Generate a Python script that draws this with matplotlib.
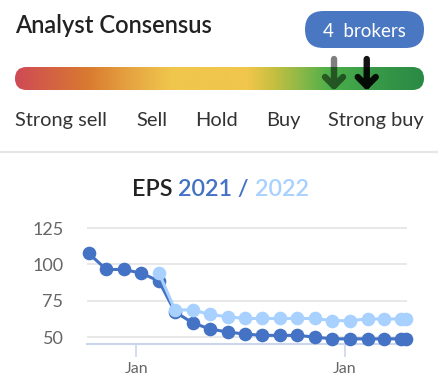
import matplotlib
matplotlib.use("Agg")
import matplotlib.pyplot as plt
import matplotlib.dates as mdates
import numpy as np
from matplotlib.colors import LinearSegmentedColormap
from matplotlib.patches import FancyBboxPatch, PathPatch
from matplotlib.path import Path
from datetime import date

plt.rcParams['font.family'] = ['Lato', 'DejaVu Sans']

# 数据
dates = ["2020-10-10", "2020-11-10", "2020-12-10", "2021-01-10", "2021-02-10",
         "2021-03-10", "2021-04-10", "2021-05-10", "2021-06-10", "2021-07-10",
         "2021-08-10", "2021-09-10", "2021-10-10", "2021-11-10", "2021-12-10",
         "2022-01-10", "2022-02-10", "2022-03-10", "2022-04-10", "2022-04-18"]
eps_2021 = [107.5, 96.5, 96.5, 94.0, 88.5, 67.3, 59.8, 55.6, 53.5, 52.1,
            51.2, 51.2, 51.2, 50.0, 48.8, 48.8, 48.8, 48.8, 48.8, 48.8]
eps_2022 = [None, None, None, None, 94.0, 68.7, 68.7, 65.6, 64.0, 62.8,
            62.8, 62.8, 62.8, 62.8, 61.3, 61.3, 62.5, 62.5, 62.5, 62.5]
y_ticks = [50, 75, 100, 125]
x_ticks = ["2021-01-01", "2022-01-01"]
x_tick_labels = ["Jan", "Jan"]
rating_labels = ["Strong sell", "Sell", "Hold", "Buy", "Strong buy"]
n_brokers = 4
arrow_pos = [0.78, 0.86]   # 箭头在渐变条上的位置(0-1)

W, H = 439, 389
fig = plt.figure(figsize=(W / 100, H / 100), dpi=100, facecolor='white')

# 上半部分：像素坐标的覆盖轴
ax0 = fig.add_axes([0, 0, 1, 1])
ax0.set_xlim(0, W)
ax0.set_ylim(H, 0)
ax0.axis('off')

ax0.text(15, 33, "Analyst Consensus", fontsize=17, fontweight='semibold',
         color='#222222', ha='left', va='baseline')

# 经纪人数量的胶囊
pill = FancyBboxPatch((305, 11), 119, 37,
                      boxstyle="round,pad=0,rounding_size=18.5",
                      fc='#4a77c1', ec='none')
ax0.add_patch(pill)
ax0.text(364.5, 36.5, f"{n_brokers}  brokers", fontsize=13.5, color='white',
         ha='center', va='baseline')

# 渐变条
bar_x0, bar_x1, bar_y0, bar_y1 = 15, 424, 67, 90
cmap = LinearSegmentedColormap.from_list("cons", [
    (0.0, '#cf4a55'), (0.18, '#d97b30'), (0.27, '#e5a040'), (0.38, '#f0c64c'),
    (0.57, '#f0c64c'), (0.63, '#c8c040'), (0.70, '#8cb848'), (0.77, '#4caf48'),
    (0.88, '#389a48'), (1.0, '#2a8a45')])
grad = np.linspace(0, 1, 512).reshape(1, -1)
im = ax0.imshow(grad, cmap=cmap, aspect='auto',
                extent=(bar_x0, bar_x1, bar_y1, bar_y0), zorder=1)
r = (bar_y1 - bar_y0) / 2
clip = FancyBboxPatch((bar_x0, bar_y0), bar_x1 - bar_x0, bar_y1 - bar_y0,
                      boxstyle=f"round,pad=0,rounding_size={r}",
                      fc='none', ec='none', transform=ax0.transData)
ax0.add_patch(clip)
im.set_clip_path(clip)

# 箭头
for pos, alpha in zip(arrow_pos, [0.5, 0.92]):
    x = bar_x0 + pos * (bar_x1 - bar_x0)
    verts = [(x, 59), (x, 86), (x - 9, 77), (x, 86), (x + 9, 77)]
    codes = [Path.MOVETO, Path.LINETO, Path.MOVETO, Path.LINETO, Path.LINETO]
    ax0.add_patch(PathPatch(Path(verts, codes), fill=False, ec='black', alpha=alpha,
                            lw=4.6, capstyle='round', joinstyle='round', zorder=3))

label_x = [15, 152, 216.5, 283, 424]
label_ha = ['left', 'center', 'center', 'center', 'right']
for lab, x, ha in zip(rating_labels, label_x, label_ha):
    ax0.text(x, 126, lab, fontsize=14.4, color='#333333', ha=ha, va='baseline')

ax0.plot([0, W], [152, 152], color='#e6e6e6', lw=1.5)

# EPS 标题
pieces = [("EPS ", '#222222'), ("2021 / ", '#4472c4'), ("2022", '#a8d1ff')]
fig.canvas.draw()
renderer = fig.canvas.get_renderer()
texts = []
for s, c in pieces:
    texts.append(ax0.text(0, 196, s, fontsize=16.8, fontweight='semibold', color=c,
                          ha='left', va='baseline'))
widths = [t.get_window_extent(renderer).width for t in texts]
x = 132
for t, w in zip(texts, widths):
    t.set_x(x)
    x += w

# 下半部分：EPS 图
px_l, px_r, px_b, px_t = 87, 407, 343.5, 226.6
ax = fig.add_axes([px_l / W, (H - px_b) / H, (px_r - px_l) / W, (px_b - px_t) / H])
ax.set_facecolor('none')
xd = mdates.datestr2num(dates)
y22 = np.array([np.nan if v is None else v for v in eps_2022])
ax.plot(xd, eps_2021, color='#4472c4', lw=2.2, marker='o', ms=8.8,
        mec='#4472c4', clip_on=False, zorder=3)
ax.plot(xd, y22, color='#a8d1ff', lw=2.2, marker='o', ms=8.8,
        mec='#a8d1ff', clip_on=False, zorder=4)

ax.set_xlim(mdates.date2num(date(2020, 10, 7)), mdates.date2num(date(2022, 4, 20)))
ax.set_ylim(45.6, 126)
ax.set_yticks(y_ticks)
ax.grid(axis='y', color='#e6e6e6', lw=1.3)
ax.set_axisbelow(True)
ax.set_xticks(mdates.datestr2num(x_ticks))
ax.set_xticklabels(x_tick_labels)
for sp in ['top', 'left', 'right']:
    ax.spines[sp].set_visible(False)
ax.spines['bottom'].set_color('#ccd6eb')
ax.spines['bottom'].set_linewidth(1.5)
ax.tick_params(axis='y', length=0, pad=17, labelsize=13, labelcolor='#666666')
ax.tick_params(axis='x', length=9, width=1.2, color='#ccd6eb', pad=4,
               labelsize=11.5, labelcolor='#666666')

fig.savefig("out.png", dpi=100, facecolor='white')
